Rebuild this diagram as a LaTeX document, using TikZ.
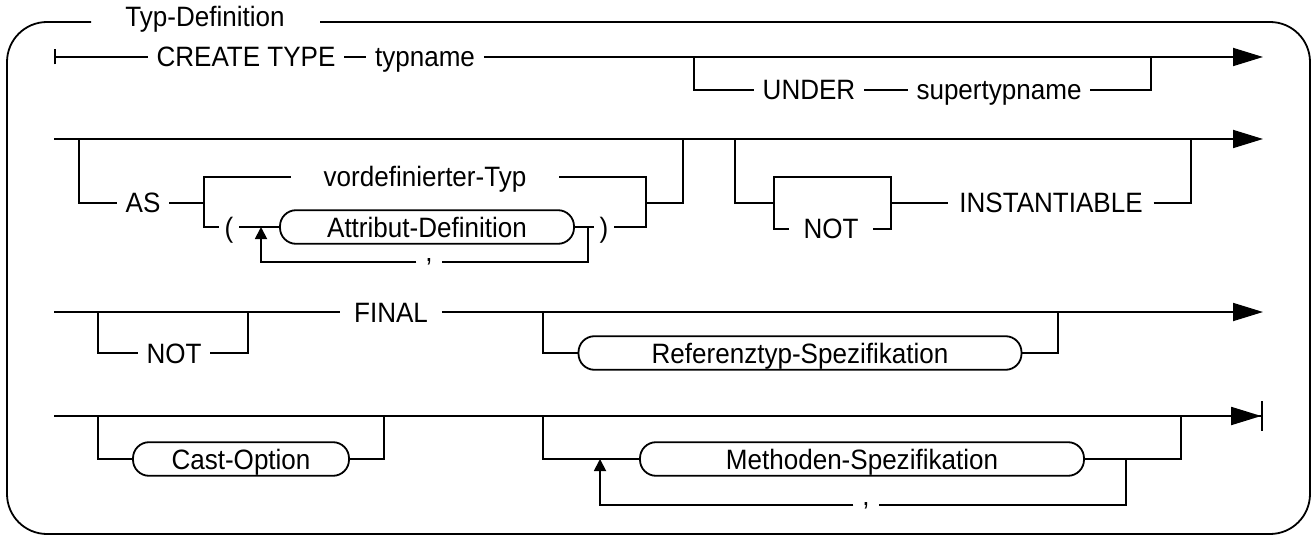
\documentclass[tikz,border=0pt]{standalone}
\usepackage{fontspec}
\setmainfont{Liberation Sans}[FakeStretch=0.93]
\usetikzlibrary{arrows.meta}

\begin{document}
\begin{tikzpicture}[x=0.5pt,y=-0.5pt,line width=0.9pt,
    font=\fontsize{14}{16}\selectfont,
    kw/.style={inner xsep=4pt,inner ysep=0pt,text height=10pt,text depth=0pt},
    nt/.style={draw,rounded corners=8pt,minimum height=16.8pt,inner ysep=0pt,
      text height=10pt,text depth=0pt},
    comma/.style={inner xsep=4pt,inner ysep=0pt,text height=0pt,text depth=0pt},
    fwd/.style={-{Triangle[length=15pt,width=9pt]}},
    back/.style={-{Triangle[length=6pt,width=6pt]}}]
  \useasboundingbox (0,0) rectangle (1313,535);

  % frame with title
  \node[anchor=base] (title) at (205,27) {Typ-Definition};
  \draw[rounded corners=20pt] (91,22) -- (7,22) -- (7,534) -- (1310,534)
    -- (1310,22) -- (320,22);

  % row 1
  \coordinate (r1s) at (54,57);
  \coordinate (r1e) at (1263,57);
  \node[kw] (create) at (246,57) {CREATE TYPE};
  \node[kw] (typname) at (425,57) {typname};
  \draw[{Bar[width=7.5pt]}-] (r1s) -- (create);
  \draw (create) -- (typname);
  \draw[fwd] (typname) -- (r1e);
  \coordinate (u1) at (694,57);
  \coordinate (u2) at (1151,57);
  \node[kw] (under) at (809,90) {UNDER};
  \node[kw] (super) at (999,90) {supertypname};
  \draw (u1) |- (under);
  \draw (under) -- (super);
  \draw (super) -| (u2);

  % row 2
  \coordinate (r2s) at (54,139);
  \coordinate (r2e) at (1263,139);
  \draw[fwd] (r2s) -- (r2e);
  \coordinate (a1) at (79,139);
  \coordinate (a2) at (204,203);
  \coordinate (a3) at (646,203);
  \coordinate (a4) at (683,139);
  \node[kw] (as) at (143,203) {AS};
  \draw (a1) |- (as);
  \draw (as) -- (a2);
  \node[kw,inner xsep=16pt] (vordef) at (425,177) {vordefinierter-Typ};
  \node[kw,inner xsep=2.5pt] (lp) at (229,227) {(};
  \node[nt,minimum width=147pt] (attr) at (427,227) {Attribut-Definition};
  \node[kw,inner xsep=2.5pt] (rp) at (604,227) {)};
  \draw (a2) |- (vordef);
  \draw (a2) |- (lp);
  \draw (lp) -- (attr);
  \draw (attr) -- (rp);
  \draw (vordef) -| (a3);
  \draw (rp) -| (a3);
  \draw (a3) -| (a4);
  \coordinate (b1) at (261,227);
  \coordinate (b2) at (588,227);
  \node[comma] (c1) at (429,262) {,};
  \draw (b2) |- (c1);
  \draw[back] (c1) -| (b1);

  \coordinate (i1) at (735,139);
  \coordinate (i2) at (774,203);
  \coordinate (i3) at (891,203);
  \coordinate (i4) at (1191,139);
  \node[kw,inner xsep=7pt] (not1) at (831,229) {NOT};
  \node[kw,inner xsep=5pt] (inst) at (1051,203) {INSTANTIABLE};
  \draw (i1) |- (i2);
  \draw (i2) -- ++(0,-26) -| (i3);
  \draw (i2) |- (not1);
  \draw (not1) -| (i3);
  \draw (i3) -- (inst);
  \draw (inst) -| (i4);

  % row 3
  \coordinate (r3s) at (54,312);
  \coordinate (r3e) at (1263,312);
  \node[kw,inner xsep=6.5pt] (final) at (391,312) {FINAL};
  \draw (r3s) -- (final);
  \draw[fwd] (final) -- (r3e);
  \coordinate (f1) at (98,312);
  \coordinate (f2) at (248,312);
  \node[kw] (not2) at (174,353) {NOT};
  \draw (f1) |- (not2);
  \draw (not2) -| (f2);
  \coordinate (f3) at (543,312);
  \coordinate (f4) at (1058,312);
  \node[nt,minimum width=221.5pt] (reftyp) at (800,353) {Referenztyp-Spezifikation};
  \draw (f3) |- (reftyp);
  \draw (reftyp) -| (f4);

  % row 4
  \coordinate (r4s) at (54,416);
  \coordinate (r4e) at (1263,416);
  \draw[-{Triangle[length=15pt,width=9pt]Bar[width=15pt]}] (r4s) -- (r4e);
  \coordinate (k1) at (98,416);
  \coordinate (k2) at (384,416);
  \node[nt,minimum width=108pt] (cast) at (241,459) {Cast-Option};
  \draw (k1) |- (cast);
  \draw (cast) -| (k2);
  \coordinate (m1) at (543,416);
  \coordinate (m2) at (1181,416);
  \node[nt,minimum width=222pt] (meth) at (862,459) {Methoden-Spezifikation};
  \draw (m1) |- (meth);
  \draw (meth) -| (m2);
  \coordinate (m3) at (1126,459);
  \coordinate (m4) at (600,459);
  \node[comma] (c2) at (866,505) {,};
  \draw (m3) |- (c2);
  \draw[back] (c2) -| (m4);
\end{tikzpicture}
\end{document}
